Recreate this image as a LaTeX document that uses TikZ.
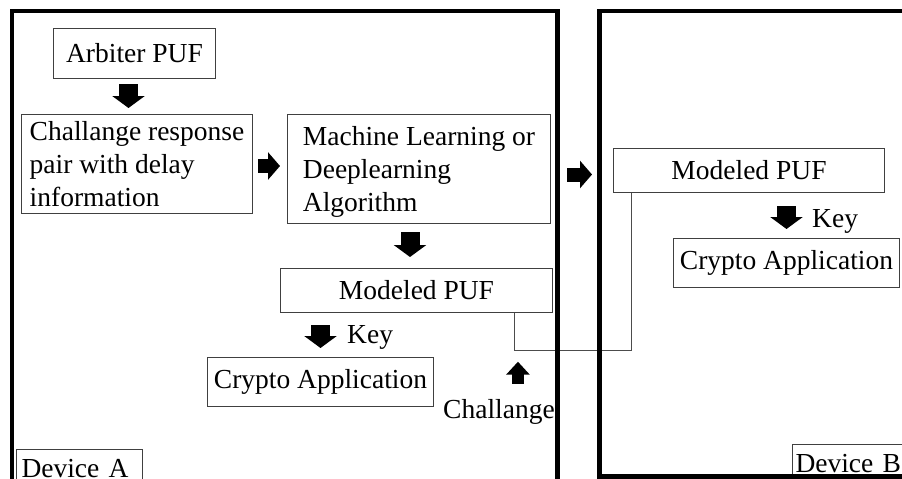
\documentclass[tikz,border=0pt]{standalone}
\usepackage{fontspec}
\setmainfont{Liberation Serif}
\usetikzlibrary{arrows.meta, calc}

\begin{document}
\begin{tikzpicture}[x=1pt, y=-1pt, font=\fontsize{27.5}{33}\selectfont,
  box/.style={rectangle, draw=black!75, line width=1pt, anchor=north west, inner xsep=5pt, inner ysep=2pt},
  fat/.style={line width=19pt, -{Triangle[length=12pt, width=32pt]}},
  fatr/.style={line width=14pt, -{Triangle[length=12pt, width=27pt]}},
  fatsm/.style={line width=12pt, -{Triangle[length=13pt, width=23pt]}},
  wire/.style={draw=black!70, line width=1pt},
  frame/.style={line width=4.5pt}]
  \clip (0,0) rectangle (902,479);
  \fill[white] (0,0) rectangle (902,479);

  % device A
  \node[box, minimum width=162pt, minimum height=50pt] (arbiter) at (53,28) {Arbiter PUF};
  \node[box, align=left, inner xsep=4pt, minimum width=231pt, minimum height=99pt] (crp) at (21,114) {Challange response\\ pair with delay\\ information};
  \node[box, align=left, inner xsep=4pt, minimum width=263pt, minimum height=109pt, text depth=0pt] (ml) at (287,114) {Machine Learning or\\ Deeplearning\\ Algorithm};
  \node[box, minimum width=272pt, minimum height=44pt] (pufA) at (280,268) {Modeled PUF};
  \node[box, minimum width=226pt, minimum height=49pt] (cryptoA) at (207,357) {Crypto Application};
  \node[anchor=base west, inner sep=0pt] (keyA) at (347,343) {Key};
  \node[anchor=base west, inner sep=0pt] (chal) at (443,418) {Challange};

  % device B
  \node[box, minimum width=271pt, minimum height=44pt] (pufB) at (613,148) {Modeled PUF};
  \node[box, minimum width=226pt, minimum height=49pt] (cryptoB) at (673,238) {Crypto Application};
  \node[anchor=base west, inner sep=0pt] (keyB) at (812,227) {Key};

  \draw[fat, shorten <=5pt, shorten >=6pt] ([xshift=-6pt]arbiter.south) -- ([xshift=-6pt]arbiter.south |- crp.north);
  \draw[fatr, shorten <=5pt, shorten >=7pt] ([yshift=-2pt]crp.east) -- ([yshift=-2pt]crp.east -| ml.west);
  \draw[fat, shorten <=8pt, shorten >=11pt] ([xshift=-9pt]ml.south) -- ([xshift=-9pt]ml.south |- pufA.north);
  \draw[fat, shorten <=12pt, shorten >=9pt] (cryptoA.north |- pufA.south) -- (cryptoA.north);
  \draw[fatsm] ([xshift=19pt, yshift=15pt]chal.north) -- ++(0,-22);
  \draw[fatr, shorten <=16pt, shorten >=21pt] ([yshift=-5.5pt]ml.east) -- ([yshift=-5.5pt]ml.east -| pufB.west);
  \draw[fat, shorten <=13pt, shorten >=9pt] (cryptoB.north |- pufB.south) -- (cryptoB.north);

  \draw[wire] ([xshift=-39pt]pufA.south east) -- ++(0,37) -| ([xshift=18pt]pufB.south west);

  \node[box, anchor=base west, text width=116pt, align=left, inner xsep=5pt, inner ysep=9pt, text height=19pt, text depth=6pt] (devA) at (16,477) {Device A};
  \node[box, anchor=base west, text width=118pt, align=left, inner xsep=3pt, inner ysep=9pt, text height=19pt, text depth=2pt] (devB) at (792,472) {Device B};

  \draw[frame] (12,495) -- (12,11) -- (557.5,11) -- (557.5,495);
  \draw[frame] (920,11) -- (599.5,11) -- (599.5,476.5) -- (920,476.5);
\end{tikzpicture}
\end{document}
